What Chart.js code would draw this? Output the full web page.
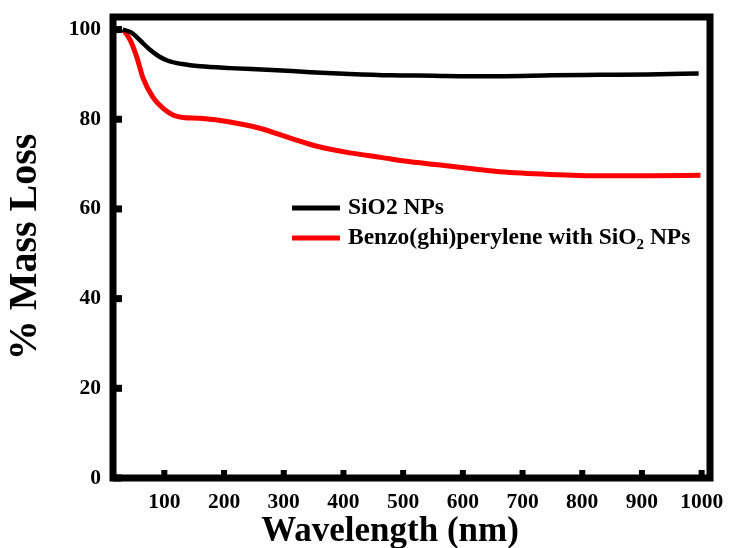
<!DOCTYPE html>
<html>
<head>
<meta charset="utf-8">
<script src="https://cdn.jsdelivr.net/npm/chart.js@4/dist/chart.umd.min.js"></script>
<style>
  html, body { margin: 0; padding: 0; background: #fff; }
  #wrap { width: 729px; height: 548px; }
</style>
</head>
<body>
<div id="wrap"><canvas id="c" width="729" height="548"></canvas></div>
<script>
// Thermogravimetric curves: % mass remaining vs. x-axis value
const silicaX = [30, 45, 60, 75, 90, 105, 130, 160, 210, 280, 345, 410, 480, 550, 610, 660, 750, 830, 910, 995];
const silicaY = [100, 99.3, 97.5, 95.6, 94.1, 93.1, 92.3, 91.8, 91.4, 91.0, 90.5, 90.1, 89.8, 89.7, 89.6, 89.6, 89.8, 89.9, 90.0, 90.2];

const hybridX = [31, 43, 54, 64, 81, 98, 115, 131, 160, 210, 260, 311, 361, 411, 462, 512, 562, 612, 662, 746, 830, 914, 998];
const hybridY = [100, 97.6, 93.8, 89.3, 84.9, 82.4, 80.9, 80.4, 80.2, 79.4, 78.0, 75.8, 73.8, 72.5, 71.5, 70.5, 69.8, 69.0, 68.3, 67.7, 67.4, 67.4, 67.5];

const xTicks = [100, 200, 300, 400, 500, 600, 700, 800, 900, 1000];
const yTicks = [0, 20, 40, 60, 80, 100];

const xTitle = 'Wavelength (nm)';
const yTitle = '% Mass Loss';

// Legend entries; "_2" marks a subscript digit
const legendLabels = ['SiO2 NPs', 'Benzo(ghi)perylene with SiO_2 NPs'];
const seriesColors = ['#000000', '#ff0000'];

const FONT = '"Liberation Serif", "Times New Roman", serif';

const toPoints = (xs, ys) => xs.map((x, i) => ({ x, y: ys[i] }));

// Thick frame plus inward tick marks
const framePlugin = {
  id: 'frame',
  afterDatasetsDraw(chart) {
    const { ctx, chartArea: a, scales } = chart;
    ctx.save();
    ctx.fillStyle = '#000';
    scales.x.ticks.forEach(t => {
      const px = scales.x.getPixelForValue(t.value);
      ctx.fillRect(px - 3, a.bottom - 8, 6, 8);
    });
    scales.y.ticks.forEach(t => {
      const py = scales.y.getPixelForValue(t.value);
      ctx.fillRect(a.left, py - 3.5, 9, 7);
    });
    ctx.strokeStyle = '#000';
    ctx.lineWidth = 7;
    ctx.lineJoin = 'miter';
    ctx.strokeRect(a.left, a.top, a.right - a.left, a.bottom - a.top);
    ctx.restore();
  }
};

// Axis titles
const titlePlugin = {
  id: 'axisTitles',
  afterDraw(chart) {
    const { ctx } = chart;
    ctx.save();
    ctx.fillStyle = '#000';
    ctx.textAlign = 'center';
    ctx.textBaseline = 'alphabetic';
    ctx.font = 'bold 35px ' + FONT;
    ctx.fillText(xTitle, 390, 541);
    ctx.translate(26, 247);
    ctx.rotate(-Math.PI / 2);
    ctx.textBaseline = 'middle';
    ctx.font = 'bold 40px ' + FONT;
    ctx.fillText(yTitle, 0, 0);
    ctx.restore();
  }
};

// Legend drawn inside the plot, with subscript support
const legendPlugin = {
  id: 'insideLegend',
  afterDraw(chart) {
    const { ctx } = chart;
    const x0 = 292, x1 = 340, tx = 348;
    const rows = [208, 238];
    ctx.save();
    legendLabels.forEach((label, i) => {
      const y = rows[i];
      ctx.strokeStyle = seriesColors[i];
      ctx.lineWidth = 5;
      ctx.beginPath();
      ctx.moveTo(x0, y);
      ctx.lineTo(x1, y);
      ctx.stroke();
      ctx.fillStyle = '#000';
      ctx.textBaseline = 'middle';
      let cx = tx;
      label.split(/(_\d)/).forEach(p => {
        if (!p) return;
        if (p.startsWith('_')) {
          ctx.font = 'bold 15px ' + FONT;
          ctx.fillText(p.slice(1), cx, y + 7);
          cx += ctx.measureText(p.slice(1)).width;
        } else {
          ctx.font = 'bold 23.5px ' + FONT;
          ctx.fillText(p, cx, y);
          cx += ctx.measureText(p).width;
        }
      });
    });
    ctx.restore();
  }
};

new Chart(document.getElementById('c'), {
  type: 'line',
  data: {
    datasets: [
      {
        label: legendLabels[0],
        data: toPoints(silicaX, silicaY),
        borderColor: seriesColors[0],
        borderWidth: 4.5,
        pointRadius: 0,
        cubicInterpolationMode: 'monotone',
        fill: false
      },
      {
        label: legendLabels[1],
        data: toPoints(hybridX, hybridY),
        borderColor: seriesColors[1],
        borderWidth: 5,
        pointRadius: 0,
        cubicInterpolationMode: 'monotone',
        fill: false
      }
    ]
  },
  options: {
    responsive: false,
    animation: false,
    layout: { padding: { top: 17, right: 19, left: 0, bottom: 0 } },
    plugins: {
      legend: { display: false },
      tooltip: { enabled: false }
    },
    scales: {
      x: {
        type: 'linear',
        min: 14,
        max: 1014,
        afterBuildTicks: s => { s.ticks = xTicks.map(v => ({ value: v })); },
        afterFit: s => { s.height = 70; s.paddingLeft = 0; s.paddingRight = 0; },
        grid: { display: false, drawTicks: false },
        border: { display: false },
        ticks: {
          color: '#000',
          padding: 12,
          maxRotation: 0,
          autoSkip: false,
          callback: v => String(v),
          font: { family: FONT, size: 21.5, weight: 'bold' }
        }
      },
      y: {
        min: 0,
        max: 102.8,
        afterBuildTicks: s => { s.ticks = yTicks.map(v => ({ value: v })); },
        afterFit: s => { s.width = 113; s.paddingTop = 0; s.paddingBottom = 0; },
        grid: { display: false, drawTicks: false },
        border: { display: false },
        ticks: {
          color: '#000',
          padding: 12,
          autoSkip: false,
          callback: v => String(v),
          font: { family: FONT, size: 21.5, weight: 'bold' }
        }
      }
    }
  },
  plugins: [framePlugin, titlePlugin, legendPlugin]
});
</script>
</body>
</html>
